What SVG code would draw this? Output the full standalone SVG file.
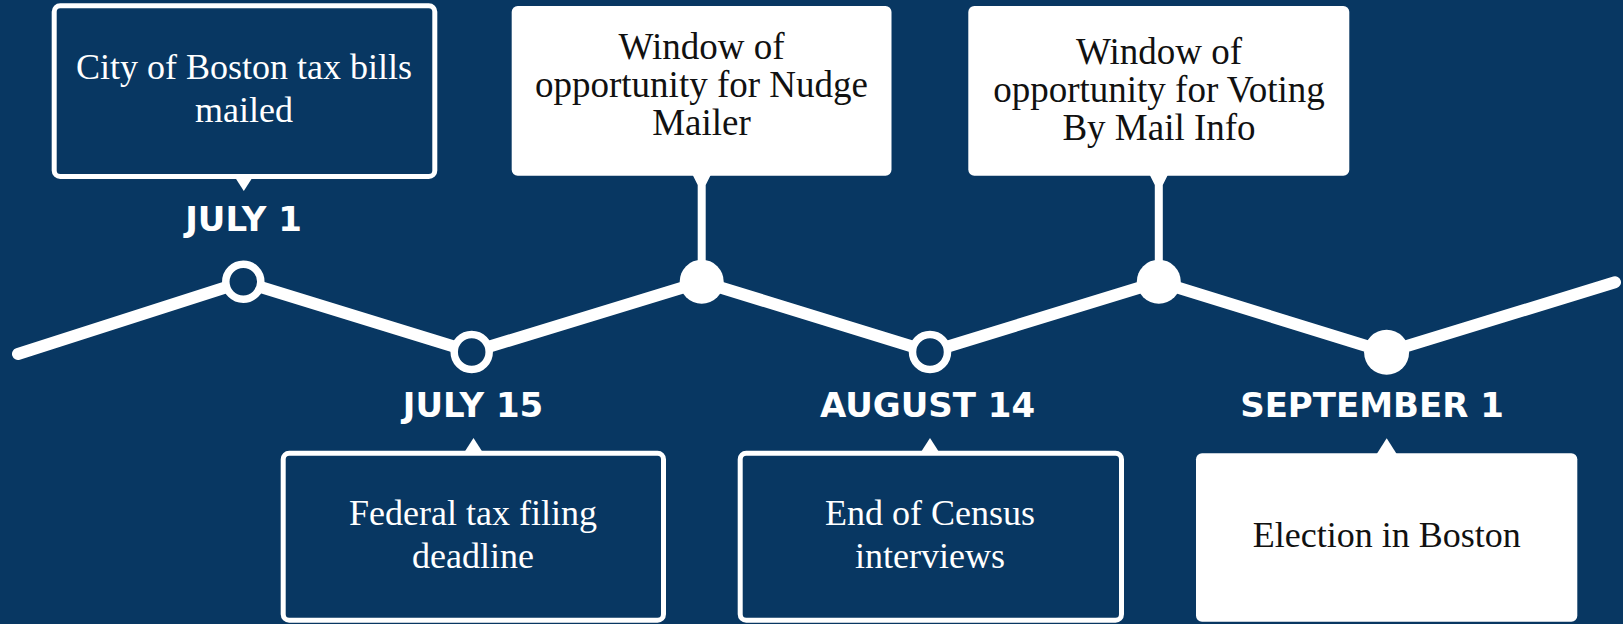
<svg xmlns="http://www.w3.org/2000/svg" width="1623" height="624" viewBox="0 0 1623 624">
  <style>
    .bg { fill: #083762; }
    .dark { fill: #083762; stroke: #ffffff; stroke-width: 5; }
    .light { fill: #ffffff; }
    .ptr { fill: #ffffff; }
    .txtw { font-family: "Liberation Serif", "Times New Roman", serif; font-size: 36px; fill: #ffffff; text-anchor: middle; }
    .txtb { font-family: "Liberation Serif", "Times New Roman", serif; font-size: 36px; fill: #111111; text-anchor: middle; }
    .big { font-size: 37px; }
    .date { font-family: "DejaVu Sans", "Liberation Sans", sans-serif; font-weight: bold; font-size: 34px; fill: #ffffff; text-anchor: middle; }
    .line { fill: none; stroke: #ffffff; stroke-width: 12; stroke-linecap: round; stroke-linejoin: round; }
    .ring { fill: #083762; stroke: #ffffff; stroke-width: 7.5; }
    .dot { fill: #ffffff; }
  </style>
  <rect class="bg" x="0" y="0" width="1623" height="624"/>

  <g id="connectors">
    <polyline class="line" points="18,354 243.3,281.7 471.7,352 701.7,281.7 930,352 1158.8,281.7 1386.6,352.3 1615,282.3"/>
    <path class="ptr" d="M692.7,175 L710.7,175 L705.7,185 L705.7,265 L697.7,265 L697.7,185 Z"/>
    <path class="ptr" d="M1149.8,175 L1167.8,175 L1162.8,185 L1162.8,265 L1154.8,265 L1154.8,185 Z"/>
  </g>

  <g id="node-july1">
    <rect class="dark" x="54.2" y="5.8" width="380.6" height="170.7" rx="6"/>
    <path class="ptr" d="M234.8,177 L252.8,177 L243.8,191 Z"/>
    <text class="txtw" x="244" y="79">City of Boston tax bills</text>
    <text class="txtw" x="244" y="121.7">mailed</text>
    <text class="date" x="243.6" y="230.7">JULY 1</text>
    <circle class="ring" cx="243.3" cy="281.7" r="17.5"/>
  </g>

  <g id="node-july15">
    <circle class="ring" cx="471.7" cy="352" r="17.5"/>
    <text class="date" x="473" y="416.7">JULY 15</text>
    <path class="ptr" d="M464.5,452 L482.5,452 L473.5,438 Z"/>
    <rect class="dark" x="283.2" y="453.2" width="380.3" height="167" rx="6"/>
    <text class="txtw" x="473" y="525">Federal tax filing</text>
    <text class="txtw" x="473" y="568.3">deadline</text>
  </g>

  <g id="node-nudge">
    <rect class="light" x="511.7" y="6" width="379.8" height="169.7" rx="6"/>
    <text class="txtb big" x="701.5" y="58.8">Window of</text>
    <text class="txtb big" x="701.5" y="96.7">opportunity for Nudge</text>
    <text class="txtb big" x="701.5" y="135">Mailer</text>
    <circle class="dot" cx="701.7" cy="281.7" r="22"/>
  </g>

  <g id="node-aug14">
    <circle class="ring" cx="930" cy="352" r="17.5"/>
    <text class="date" x="927.5" y="416.7">AUGUST 14</text>
    <path class="ptr" d="M921,452 L939,452 L930,438 Z"/>
    <rect class="dark" x="740.2" y="453.2" width="381.3" height="167" rx="6"/>
    <text class="txtw" x="930" y="525">End of Census</text>
    <text class="txtw" x="930" y="568.3">interviews</text>
  </g>

  <g id="node-voting">
    <rect class="light" x="968.3" y="6" width="381" height="169.7" rx="6"/>
    <text class="txtb big" x="1159" y="63.8">Window of</text>
    <text class="txtb big" x="1159" y="101.7">opportunity for Voting</text>
    <text class="txtb big" x="1159" y="140">By Mail Info</text>
    <circle class="dot" cx="1158.8" cy="281.7" r="22"/>
  </g>

  <g id="node-sept1">
    <circle class="dot" cx="1386.6" cy="352.3" r="22.5"/>
    <text class="date" x="1372" y="417.3">SEPTEMBER 1</text>
    <path class="ptr" d="M1376.7,454 L1396.7,454 L1386.7,438.3 Z"/>
    <rect class="light" x="1196" y="453.3" width="381.3" height="168.4" rx="6"/>
    <text class="txtb" x="1386.7" y="547.3">Election in Boston</text>
  </g>
</svg>
